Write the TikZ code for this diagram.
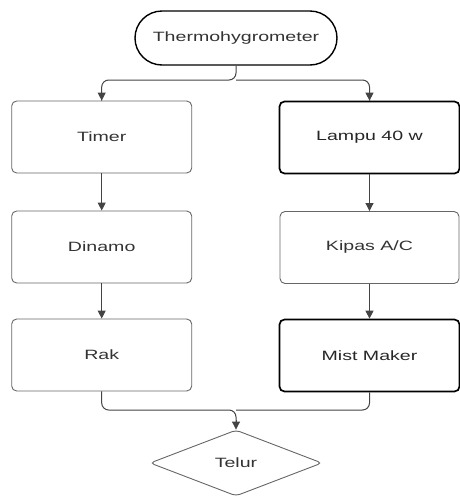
\documentclass[tikz,border=0pt]{standalone}
\usepackage{fontspec}
\setmainfont{Liberation Sans}[FakeStretch=1.45]
\usetikzlibrary{arrows.meta,shapes.geometric}
\definecolor{txt}{HTML}{333333}
\definecolor{lgray}{HTML}{666666}
\definecolor{arrc}{HTML}{444444}
\tikzset{
  box/.style={draw=lgray, line width=0.9pt, rounded corners=5pt, minimum width=180pt, minimum height=72pt, inner sep=0pt, text=txt, font=\fontsize{13.5}{16}\selectfont},
  boldbox/.style={box, draw=black, line width=1.7pt, text=black!85},
  arr/.style={draw=arrc, line width=1pt, -{Triangle[width=8pt,length=8pt]}},
  lnk/.style={draw=arrc, line width=1pt, rounded corners=7pt}
}
\begin{document}
\begin{tikzpicture}[x=1pt,y=-1pt]
\useasboundingbox (0,0) rectangle (459,496);
\node[draw=black, line width=1.4pt, rounded corners=27pt, minimum width=202pt, minimum height=54pt, inner sep=0pt, text=txt, font=\fontsize{13.5}{16}\selectfont] (th) at (236,38) {Thermohygrometer};
\node[box] (timer) at (101.7,137) {Timer};
\node[box] (dinamo) at (101.7,247) {Dinamo};
\node[box] (rak) at (101.7,355) {Rak};
\node[boldbox] (lampu) at (369.5,137.5) {Lampu 40 w};
\node[box, minimum width=179pt] (kipas) at (369.5,247.5) {Kipas A/C};
\node[boldbox] (mist) at (369.5,355.5) {Mist Maker};
\node[diamond, draw=lgray, line width=0.9pt, rounded corners=4pt, aspect=2.6, minimum width=172pt, minimum height=66pt, inner sep=0pt, text=txt, font=\fontsize{13.5}{16}\selectfont] (telur) at (236,463) {Telur};
\coordinate (j1) at (236,80);
\coordinate (j2) at (236,410);
\draw[lnk] (th.south) -- (j1) -| (timer.north);
\draw[lnk] (j1) -| (lampu.north);
\draw[arr] (101.7,95) -- (timer.north);
\draw[arr] (369.5,95) -- (lampu.north);
\draw[arr] (timer.south) -- (dinamo.north);
\draw[arr] (dinamo.south) -- (rak.north);
\draw[arr] (lampu.south) -- (kipas.north);
\draw[arr] (kipas.south) -- (mist.north);
\draw[lnk] (mist.south) |- (j2);
\draw[lnk] (rak.south) |- (j2) -- (236,424);
\draw[arr] (236,420) -- (telur.north);
\end{tikzpicture}
\end{document}
